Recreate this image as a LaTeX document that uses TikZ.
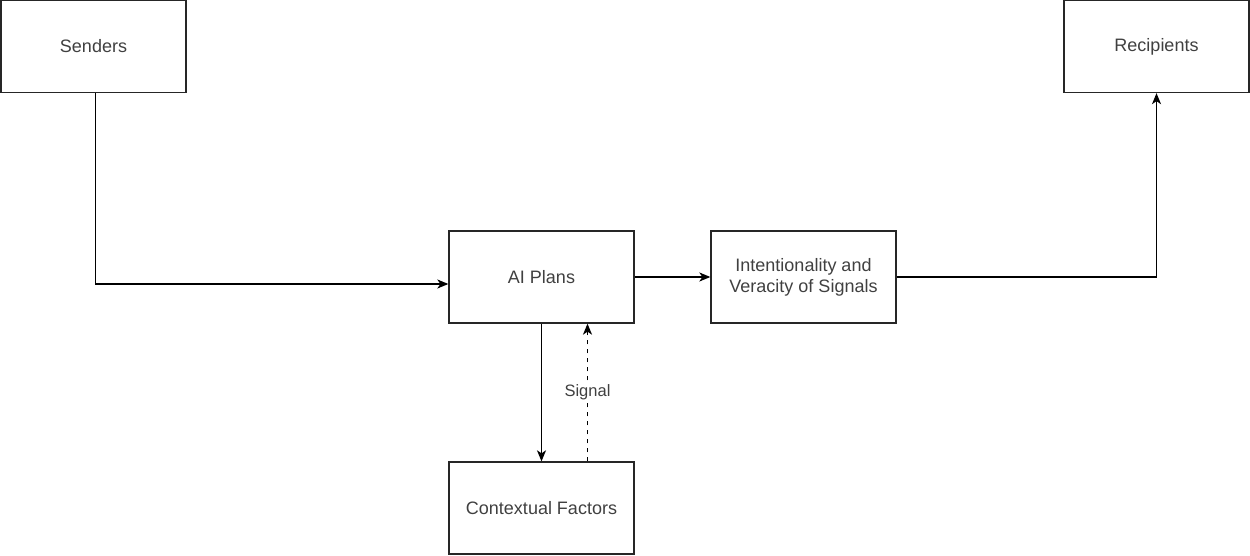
\documentclass[tikz,border=0pt]{standalone}
\usepackage{fontspec}
\setmainfont{Liberation Sans}
\usetikzlibrary{arrows.meta}
\begin{document}
\begin{tikzpicture}[x=1pt,y=-1pt,
  box/.style={draw=black!85, line width=1.3pt, minimum width=185pt, minimum height=92pt,
    inner sep=0pt, align=center, text=black!75, font=\fontsize{18}{20.7}\selectfont},
  conn/.style={draw=black, line width=1.3pt, -{Stealth[length=11pt,width=9pt,inset=3pt]}},
  lbl/.style={fill=white, text=black!75, inner sep=1pt, font=\fontsize{16.5}{19}\selectfont}]
\useasboundingbox (0,0) rectangle (1250,556);
\node[box] (s) at (93.5,46.5) {Senders};
\node[box] (r) at (1156.5,46.5) {Recipients};
\node[box] (ai) at (541.5,277) {AI Plans};
\node[box] (iv) at (803.5,277) {Intentionality and\\Veracity of Signals};
\node[box] (cf) at (541.5,508) {Contextual Factors};
\draw[conn] ([xshift=2pt]s.south) |- ([yshift=-7pt]ai.west);
\draw[conn] (ai.east) -- (iv.west);
\draw[conn] (iv.east) -| (r.south);
\draw[conn] (ai.south) -- (cf.north);
\draw[conn, dash pattern=on 4.5pt off 4.5pt] ([xshift=46pt]cf.north) -- node[lbl] (sig) {Signal} ([xshift=46pt]ai.south);
\end{tikzpicture}
\end{document}
